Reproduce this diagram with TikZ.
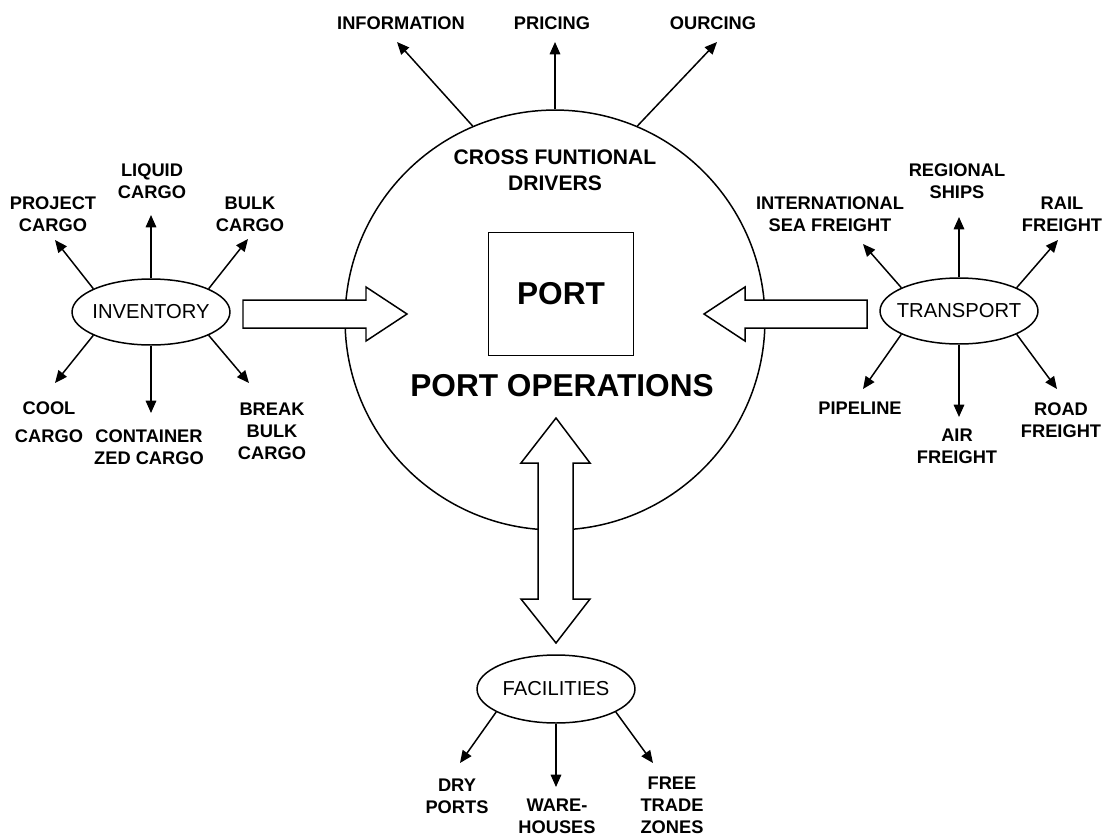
\documentclass[tikz,border=0pt]{standalone}
\usepackage{fontspec}
\setmainfont{Liberation Sans}
\usetikzlibrary{arrows.meta,shapes.geometric}

\begin{document}
\begin{tikzpicture}[x=0.02cm, y=-0.02cm, line width=0.85pt,
    lbl/.style={align=center, inner sep=0pt, font=\fontsize{10.4}{12.6}\selectfont\bfseries},
    hub/.style={ellipse, draw, fill=white, minimum width=3.16cm, minimum height=1.32cm, inner sep=0pt},
    hubtext/.style={font=\fontsize{11.5}{13}\selectfont},
    spoke/.style={-{Triangle[length=7pt,width=6pt]}},
    blockarrow/.style={draw, fill=white, line join=miter}]
\useasboundingbox (0,0) rectangle (1103,836);

                    % Port operations
                    \node[circle, draw, minimum size=8.4cm, inner sep=0pt] (port) at (555,320) {};
                    \node[draw, minimum width=2.9cm, minimum height=2.46cm, font=\fontsize{18}{20}\selectfont\bfseries] (portbox) at (561,294) {PORT};
                    \node[font=\fontsize{18}{20}\selectfont\bfseries] (portops) at (562,386) {PORT OPERATIONS};
                    \node[align=center, font=\fontsize{12}{14.8}\selectfont\bfseries] (drivers) at (555,170) {CROSS FUNTIONAL\\DRIVERS};

                    % Cross functional drivers
                    \node[lbl] (info) at (401,23) {INFORMATION};
                    \node[lbl] (pricing) at (552,23) {PRICING};
                    \node[lbl] (sourcing) at (713,23) {OURCING};
                    \coordinate (tinfo) at (397,42);
                    \coordinate (tpricing) at (555,42);
                    \coordinate (tsourcing) at (717,42);
                    \draw[spoke] (port.113) -- (tinfo);
                    \draw[spoke] (port.north) -- (tpricing);
                    \draw[spoke] (port.67) -- (tsourcing);

                    % Inventory
                    \node[hub, label={[hubtext]center:INVENTORY}] (inventory) at (151,312) {};
                    \node[lbl] (project) at (53,214) {PROJECT\\CARGO};
                    \node[lbl] (liquid) at (152,181) {LIQUID\\CARGO};
                    \node[lbl] (bulk) at (250,214) {BULK\\CARGO};
                    \node[lbl] (cool) at (49,422) {COOL\\[3pt]CARGO};
                    \node[lbl] (container) at (149,447) {CONTAINER\\ZED CARGO};
                    \node[lbl] (breakbulk) at (272,431) {BREAK\\BULK\\CARGO};
                    \coordinate (tproject) at (55,240);
                    \coordinate (tliquid) at (151,215);
                    \coordinate (tbulk) at (248,239);
                    \coordinate (tcool) at (55,383);
                    \coordinate (tcontainer) at (151,413);
                    \coordinate (tbreakbulk) at (249,383);
                    \draw[spoke] (inventory.158) -- (tproject);
                    \draw[spoke] (inventory.north) -- (tliquid);
                    \draw[spoke] (inventory.22) -- (tbulk);
                    \draw[spoke] (inventory.-158) -- (tcool);
                    \draw[spoke] (inventory.south) -- (tcontainer);
                    \draw[spoke] (inventory.-22) -- (tbreakbulk);

                    % Transport
                    \node[hub, label={[hubtext]center:TRANSPORT}] (transport) at (959,311) {};
                    \node[lbl] (seafreight) at (830,214) {INTERNATIONAL\\SEA FREIGHT};
                    \node[lbl] (regional) at (957,181) {REGIONAL\\SHIPS};
                    \node[lbl] (rail) at (1062,214) {RAIL\\FREIGHT};
                    \node[lbl] (pipeline) at (860,408) {PIPELINE};
                    \node[lbl] (air) at (957,446) {AIR\\FREIGHT};
                    \node[lbl] (road) at (1061,420) {ROAD\\FREIGHT};
                    \coordinate (tseafreight) at (863,244);
                    \coordinate (tregional) at (959,217);
                    \coordinate (trail) at (1058,240);
                    \coordinate (tpipeline) at (863,389);
                    \coordinate (tair) at (959,417);
                    \coordinate (troad) at (1057,389);
                    \draw[spoke] (transport.158) -- (tseafreight);
                    \draw[spoke] (transport.north) -- (tregional);
                    \draw[spoke] (transport.22) -- (trail);
                    \draw[spoke] (transport.-158) -- (tpipeline);
                    \draw[spoke] (transport.south) -- (tair);
                    \draw[spoke] (transport.-22) -- (troad);

                    % Facilities
                    \node[hub, minimum height=1.36cm, label={[hubtext]center:FACILITIES}] (facilities) at (556,689) {};
                    \node[lbl] (dry) at (457,796) {DRY\\PORTS};
                    \node[lbl] (warehouses) at (557,816) {WARE-\\HOUSES};
                    \node[lbl] (freetrade) at (672,805) {FREE\\TRADE\\ZONES};
                    \coordinate (tdry) at (460,763);
                    \coordinate (twarehouses) at (556,787);
                    \coordinate (tfreetrade) at (653,763);
                    \draw[spoke] (facilities.-159) -- (tdry);
                    \draw[spoke] (facilities.south) -- (twarehouses);
                    \draw[spoke] (facilities.-21) -- (tfreetrade);

                    % Block arrows
                    \draw[blockarrow] (243,300) -- (366,300) -- (366,287) -- (407,314) -- (366,341) -- (366,328) -- (243,328) -- cycle;
                    \draw[blockarrow] (867,300) -- (745,300) -- (745,287) -- (704,314) -- (745,341) -- (745,328) -- (867,328) -- cycle;
                    \draw[blockarrow] (556,418) -- (590,463) -- (573,463) -- (573,599) -- (590,599) -- (556,643)
                        -- (521,599) -- (538,599) -- (538,463) -- (521,463) -- cycle;
\end{tikzpicture}
\end{document}
